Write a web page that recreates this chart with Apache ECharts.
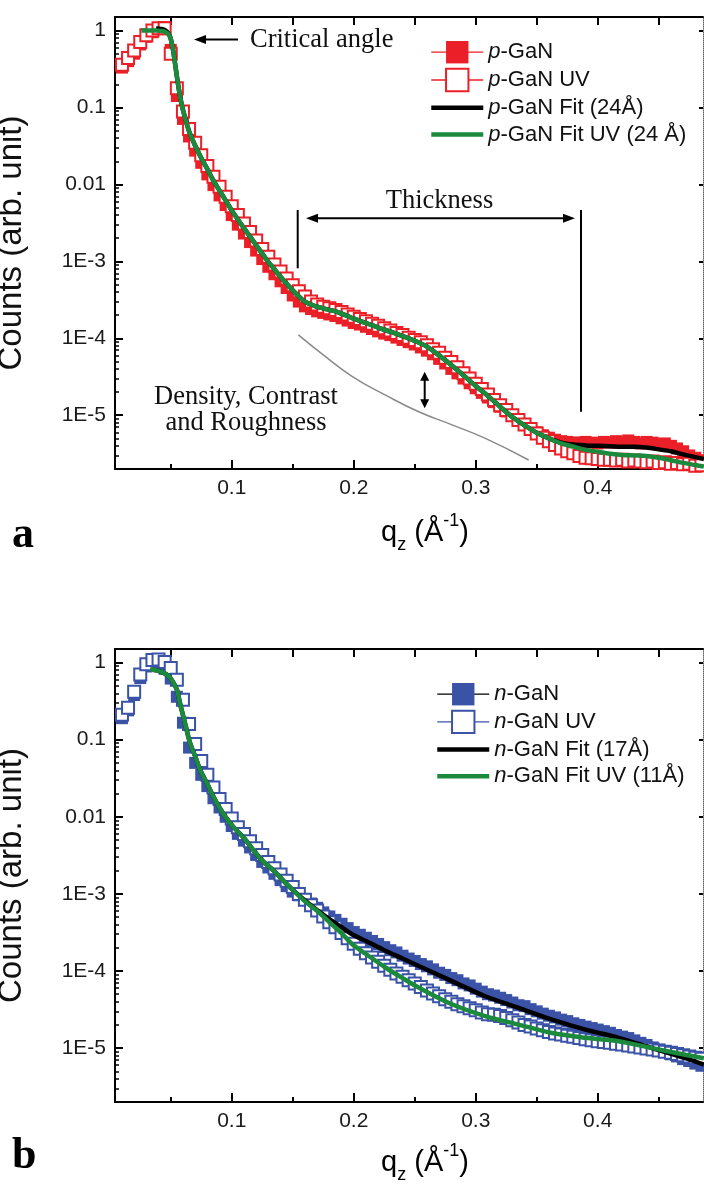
<!DOCTYPE html>
<html><head><meta charset="utf-8">
<script src="https://cdn.jsdelivr.net/npm/echarts@6/dist/echarts.min.js"></script>
<style>html,body{margin:0;padding:0;background:#fff}#c{width:704px;height:1187px}</style>
</head><body><div id="c"></div>
<script>
// ---------------- DATA ----------------
const qData = [0.010,0.015,0.020,0.025,0.030,0.035,0.040,0.045,0.050,0.055,
0.060,0.065,0.070,0.075,0.080,0.085,0.090,0.095,0.100,0.105,
0.110,0.115,0.120,0.125,0.130,0.135,0.140,0.145,0.150,0.155,
0.160,0.165,0.170,0.175,0.180,0.185,0.190,0.195,0.200,0.205,
0.210,0.215,0.220,0.225,0.230,0.235,0.240,0.245,0.250,0.255,
0.260,0.265,0.270,0.275,0.280,0.285,0.290,0.295,0.300,0.305,
0.310,0.315,0.320,0.325,0.330,0.335,0.340,0.345,0.350,0.355,
0.360,0.365,0.370,0.375,0.380,0.385,0.390,0.395,0.400,0.405,
0.410,0.415,0.420,0.425,0.430,0.435,0.440,0.445,0.450,0.455,
0.460,0.465,0.470,0.475,0.480,0.485];

const pGaN = [0.33,0.40,0.50,0.66,0.83,0.95,1.05,1.10,0.56,0.141,
0.071,0.042,0.0275,0.0191,0.0135,0.0098,0.0072,0.0054,0.0040,0.0030,
0.0023,0.00178,0.00138,0.00107,8.5e-4,6.8e-4,5.5e-4,4.5e-4,3.6e-4,3.0e-4,
2.6e-4,2.4e-4,2.24e-4,2.14e-4,2.04e-4,1.95e-4,1.82e-4,1.70e-4,1.58e-4,1.51e-4,
1.41e-4,1.32e-4,1.23e-4,1.15e-4,1.10e-4,1.02e-4,9.5e-5,8.9e-5,8.3e-5,7.6e-5,
6.9e-5,6.2e-5,5.4e-5,4.7e-5,4.0e-5,3.5e-5,3.0e-5,2.6e-5,2.24e-5,1.95e-5,
1.70e-5,1.48e-5,1.29e-5,1.12e-5,9.8e-6,8.5e-6,7.6e-6,6.8e-6,6.0e-6,5.5e-6,
5.1e-6,4.8e-6,4.6e-6,4.5e-6,4.4e-6,4.4e-6,4.5e-6,4.4e-6,4.3e-6,4.5e-6,
4.4e-6,4.6e-6,4.4e-6,4.7e-6,4.5e-6,4.3e-6,4.5e-6,4.4e-6,4.2e-6,4.3e-6,
4.0e-6,3.7e-6,3.4e-6,3.0e-6,2.8e-6,2.6e-6];

const pGaNUV = [0.36,0.44,0.55,0.71,0.87,1.0,1.07,1.07,0.50,0.178,
0.089,0.0525,0.0347,0.024,0.0174,0.0126,0.0093,0.0069,0.0052,0.0040,
0.0031,0.0024,0.00186,0.00145,0.00115,9.1e-4,7.4e-4,6.0e-4,4.9e-4,4.1e-4,
3.5e-4,3.0e-4,2.75e-4,2.57e-4,2.45e-4,2.34e-4,2.19e-4,2.04e-4,1.91e-4,1.78e-4,
1.66e-4,1.55e-4,1.45e-4,1.35e-4,1.26e-4,1.17e-4,1.10e-4,1.02e-4,9.5e-5,8.9e-5,
8.1e-5,7.2e-5,6.5e-5,5.6e-5,4.9e-5,4.2e-5,3.5e-5,3.0e-5,2.57e-5,2.19e-5,
1.86e-5,1.58e-5,1.35e-5,1.17e-5,1.0e-5,8.7e-6,7.6e-6,6.6e-6,5.8e-6,5.1e-6,
4.6e-6,4.1e-6,3.7e-6,3.4e-6,3.2e-6,2.95e-6,2.8e-6,2.75e-6,2.7e-6,2.63e-6,
2.63e-6,2.57e-6,2.63e-6,2.5e-6,2.57e-6,2.5e-6,2.45e-6,2.5e-6,2.4e-6,2.45e-6,
2.34e-6,2.4e-6,2.3e-6,2.34e-6,2.2e-6,2.24e-6];

const pFitQ = [0.038,0.042,0.045,0.048,0.050,0.052,0.054,0.056,0.058,0.060,
0.065,0.070,0.075,0.080,0.085,0.090,0.095,0.100,0.105,0.110,
0.115,0.120,0.125,0.130,0.135,0.140,0.145,0.150,0.155,0.160,
0.165,0.170,0.175,0.180,0.185,0.190,0.195,0.200,0.210,0.220,
0.230,0.240,0.250,0.260,0.270,0.280,0.290,0.300,0.310,0.320,
0.330,0.340,0.350,0.360,0.370,0.380,0.390,0.400,0.410,0.420,
0.430,0.440,0.450,0.460,0.470,0.480,0.487];
const pFit = [1.06,1.05,1.02,0.92,0.78,0.55,0.33,0.20,0.13,0.093,
0.049,0.032,0.022,0.0158,0.0112,0.0083,0.0062,0.0046,0.0035,0.0027,
0.0021,0.00162,0.00126,9.8e-4,7.9e-4,6.3e-4,5.1e-4,4.2e-4,3.5e-4,3.0e-4,
2.75e-4,2.57e-4,2.45e-4,2.34e-4,2.24e-4,2.09e-4,1.95e-4,1.80e-4,1.58e-4,1.38e-4,
1.22e-4,1.07e-4,9.3e-5,7.8e-5,6.0e-5,4.5e-5,3.3e-5,2.4e-5,1.78e-5,1.29e-5,
9.5e-6,7.4e-6,5.9e-6,5.0e-6,4.4e-6,4.15e-6,4.05e-6,4.0e-6,3.95e-6,3.9e-6,
3.9e-6,3.8e-6,3.6e-6,3.4e-6,3.1e-6,2.85e-6,2.7e-6];

const pFitUVQ = [0.026,0.032,0.038,0.042,0.045,0.048,0.050,0.052,0.054,0.056,
0.058,0.060,0.065,0.070,0.075,0.080,0.085,0.090,0.095,0.100,
0.105,0.110,0.115,0.120,0.125,0.130,0.135,0.140,0.145,0.150,
0.155,0.160,0.165,0.170,0.175,0.180,0.185,0.190,0.195,0.200,
0.210,0.220,0.230,0.240,0.250,0.260,0.270,0.280,0.290,0.300,
0.310,0.320,0.330,0.340,0.350,0.360,0.370,0.380,0.390,0.400,
0.410,0.420,0.430,0.440,0.450,0.460,0.470,0.480,0.487];
const pFitUV = [1.0,1.0,1.0,0.99,0.97,0.90,0.78,0.55,0.33,0.20,
0.13,0.093,0.049,0.032,0.022,0.0158,0.0112,0.0083,0.0062,0.0046,
0.0035,0.0027,0.0021,0.00162,0.00126,9.8e-4,7.9e-4,6.3e-4,5.1e-4,4.2e-4,
3.5e-4,3.0e-4,2.75e-4,2.57e-4,2.45e-4,2.34e-4,2.24e-4,2.09e-4,1.95e-4,1.80e-4,
1.58e-4,1.38e-4,1.22e-4,1.07e-4,9.3e-5,7.8e-5,6.0e-5,4.5e-5,3.3e-5,2.4e-5,
1.78e-5,1.29e-5,9.5e-6,7.4e-6,5.9e-6,5.0e-6,4.3e-6,3.9e-6,3.55e-6,3.35e-6,
3.15e-6,3.05e-6,3.0e-6,2.95e-6,2.8e-6,2.6e-6,2.4e-6,2.25e-6,2.15e-6];

const refQ = [0.1546,0.175,0.1986,0.2257,0.2533,0.2806,0.3079,0.3434];
const refY = [1.11e-4,6.1e-5,3.2e-5,1.84e-5,1.11e-5,7.5e-6,5.0e-6,2.62e-6];

const nGaN = [0.19,0.24,0.38,0.63,0.89,1.0,0.95,0.83,0.62,0.36,
0.166,0.079,0.050,0.035,0.025,0.0174,0.0132,0.0100,0.0076,0.0060,
0.0049,0.0040,0.0032,0.0026,0.0022,0.00182,0.00151,0.00126,0.00107,9.6e-4,
8.5e-4,7.5e-4,6.6e-4,5.75e-4,5.1e-4,4.6e-4,4.1e-4,3.6e-4,3.2e-4,2.95e-4,
2.7e-4,2.45e-4,2.24e-4,2.04e-4,1.86e-4,1.74e-4,1.58e-4,1.45e-4,1.35e-4,1.23e-4,
1.15e-4,1.05e-4,9.5e-5,8.9e-5,8.1e-5,7.6e-5,6.9e-5,6.5e-5,5.9e-5,5.4e-5,
5.0e-5,4.8e-5,4.5e-5,4.2e-5,3.9e-5,3.6e-5,3.5e-5,3.2e-5,3.0e-5,2.8e-5,
2.63e-5,2.5e-5,2.34e-5,2.24e-5,2.1e-5,2.0e-5,1.9e-5,1.82e-5,1.74e-5,1.66e-5,
1.58e-5,1.48e-5,1.41e-5,1.35e-5,1.26e-5,1.17e-5,1.10e-5,1.02e-5,9.5e-6,8.9e-6,
8.3e-6,7.8e-6,7.2e-6,6.8e-6,6.3e-6,5.9e-6];

const nGaNUV = [0.21,0.26,0.42,0.70,0.95,1.08,1.10,1.02,0.85,0.60,
0.33,0.16,0.088,0.053,0.035,0.024,0.0170,0.0126,0.0095,0.0073,
0.0060,0.0048,0.0039,0.0032,0.0026,0.00215,0.00178,0.00148,0.00123,1.0e-3,
8.4e-4,7.1e-4,6.1e-4,5.1e-4,4.3e-4,3.7e-4,3.1e-4,2.65e-4,2.25e-4,1.95e-4,
1.70e-4,1.50e-4,1.32e-4,1.17e-4,1.04e-4,9.3e-5,8.4e-5,7.6e-5,6.9e-5,6.2e-5,
5.6e-5,5.1e-5,4.7e-5,4.3e-5,4.0e-5,3.7e-5,3.5e-5,3.3e-5,3.1e-5,2.9e-5,
2.75e-5,2.7e-5,2.6e-5,2.45e-5,2.3e-5,2.15e-5,2.0e-5,1.9e-5,1.8e-5,1.7e-5,
1.62e-5,1.55e-5,1.5e-5,1.45e-5,1.40e-5,1.35e-5,1.30e-5,1.26e-5,1.23e-5,1.20e-5,
1.17e-5,1.14e-5,1.11e-5,1.08e-5,1.05e-5,1.02e-5,9.9e-6,9.6e-6,9.3e-6,9.0e-6,
8.7e-6,8.4e-6,8.1e-6,7.8e-6,7.5e-6,7.3e-6];

const nFitQ = [0.036,0.040,0.0466,0.050,0.0549,0.0575,0.0603,0.063,0.0658,0.070,
0.074,0.080,0.085,0.090,0.095,0.1013,0.110,0.1177,0.125,0.1341,
0.142,0.1505,0.160,0.1697,0.180,0.190,0.1986,0.210,0.226,0.240,
0.2533,0.2805,0.3078,0.335,0.3626,0.390,0.4172,0.4445,0.4718,0.487];
const nFit = [0.80,0.78,0.70,0.62,0.45,0.30,0.20,0.135,0.091,0.061,
0.041,0.0266,0.0182,0.0131,0.0099,0.0074,0.0053,0.0037,0.0027,0.00202,
0.00150,0.00111,8.2e-4,6.2e-4,4.7e-4,3.7e-4,3.0e-4,2.45e-4,1.83e-4,1.45e-4,
1.16e-4,7.4e-5,4.7e-5,3.33e-5,2.34e-5,1.74e-5,1.36e-5,1.0e-5,7.4e-6,6.1e-6];

const nFitUVQ = [0.033,0.040,0.0466,0.050,0.0549,0.0575,0.0603,0.063,0.0658,0.070,
0.074,0.080,0.085,0.090,0.095,0.1013,0.110,0.1177,0.125,0.1341,
0.142,0.1505,0.160,0.1697,0.180,0.190,0.1986,0.210,0.226,0.240,
0.2533,0.2805,0.3078,0.335,0.3626,0.390,0.4172,0.4445,0.4718,0.487];
const nFitUV = [0.82,0.78,0.70,0.62,0.45,0.30,0.20,0.135,0.091,0.061,
0.041,0.0266,0.0182,0.0131,0.0099,0.0074,0.0053,0.0037,0.0027,0.00202,
0.00150,0.00111,8.0e-4,6.1e-4,4.3e-4,3.1e-4,2.24e-4,1.66e-4,1.11e-4,8.1e-5,
6.1e-5,3.7e-5,2.6e-5,2.02e-5,1.57e-5,1.36e-5,1.23e-5,1.0e-5,8.2e-6,7.4e-6];

const xTickValues = [0.1, 0.2, 0.3, 0.4];
const xTickLabels = ['0.1', '0.2', '0.3', '0.4'];
const xMinorValues = [0.05, 0.15, 0.25, 0.35, 0.45];
const xTopValues = [0.05, 0.1, 0.15, 0.2, 0.25, 0.3, 0.35, 0.4, 0.45];
const yTickValues = [1e-5, 1e-4, 1e-3, 0.01, 0.1, 1];
const yTickLabels = ['1E-5', '1E-4', '1E-3', '0.01', '0.1', '1'];

// ---------------- STYLE ----------------
const SANS = "'Liberation Sans', Arial, sans-serif";
const SERIF = "'Liberation Serif', 'Times New Roman', serif";
const RED = '#ea1f27', BLUE = '#3b53a6', GREEN = '#1b8a3c';
const X_MIN = 0.0043, X_MAX = 0.4863, Y_MIN = 2e-6, Y_MAX = 1.5;

const yMinorValues = [];
for (let e = -6; e <= 0; e++) for (let m = 2; m <= 9; m++) {
  const v = m * Math.pow(10, e);
  if (v > Y_MIN * 1.01 && v < Y_MAX) yMinorValues.push(v);
}

function yLabel(v) {
  const i = yTickValues.findIndex(t => Math.abs(Math.log10(t) - Math.log10(v)) < 0.01);
  return i >= 0 ? yTickLabels[i] : '';
}
function xLabel(v) {
  const i = xTickValues.findIndex(t => Math.abs(t - v) < 1e-6);
  return i >= 0 ? xTickLabels[i] : '';
}

function makeX(gi) {
  const base = {gridIndex: gi, type: 'value', min: X_MIN, max: X_MAX, splitLine: {show: false}};
  return [
    Object.assign({}, base, {position: 'bottom',
      axisLine: {show: true, onZero: false, lineStyle: {color: '#000', width: 2}},
      axisTick: {show: true, inside: true, length: 9, customValues: xTickValues, lineStyle: {color: '#000', width: 2}},
      axisLabel: {show: true, customValues: xTickValues, formatter: xLabel, fontSize: 21, fontFamily: SANS, color: '#1a1a1a', margin: 9}}),
    Object.assign({}, base, {position: 'bottom',
      axisLine: {show: false, onZero: false},
      axisTick: {show: true, inside: true, length: 5, customValues: xMinorValues, lineStyle: {color: '#000', width: 2}},
      axisLabel: {show: false}}),
    Object.assign({}, base, {position: 'top',
      axisLine: {show: true, onZero: false, lineStyle: {color: '#000', width: 2}},
      axisTick: {show: true, inside: true, length: 8, customValues: xTopValues, lineStyle: {color: '#000', width: 2}},
      axisLabel: {show: false}})
  ];
}
function makeY(gi) {
  const base = {gridIndex: gi, type: 'log', logBase: 10, min: Y_MIN, max: Y_MAX, splitLine: {show: false}};
  return [
    Object.assign({}, base, {position: 'left',
      name: 'Counts (arb. unit)', nameLocation: 'middle', nameGap: 87, nameRotate: 90,
      nameTextStyle: {fontSize: 33, fontFamily: SANS, color: '#111'},
      axisLine: {show: true, onZero: false, lineStyle: {color: '#000', width: 2}},
      axisTick: {show: true, inside: true, length: 8, customValues: yTickValues, lineStyle: {color: '#000', width: 2}},
      axisLabel: {show: true, customValues: yTickValues, formatter: yLabel, fontSize: 21, fontFamily: SANS, color: '#1a1a1a', margin: 9}}),
    Object.assign({}, base, {position: 'left',
      axisLine: {show: false, onZero: false},
      axisTick: {show: true, inside: true, length: 4, customValues: yMinorValues, lineStyle: {color: '#000', width: 1.5}},
      axisLabel: {show: false}}),
    Object.assign({}, base, {position: 'right',
      axisLine: {show: true, onZero: false, lineStyle: {color: '#666', width: 1, type: 'dotted'}},
      axisTick: {show: true, inside: true, length: 4, customValues: yTickValues, lineStyle: {color: '#000', width: 2}},
      axisLabel: {show: false}})
  ];
}

const zip = (xs, ys) => xs.map((x, i) => [x, ys[i]]);

function dataSeries(name, xi, yi, q, v, color, filled) {
  return {name, type: 'line', xAxisIndex: xi, yAxisIndex: yi, data: zip(q, v),
    symbol: filled ? 'rect' : 'emptyRect', symbolSize: 12, showSymbol: true,
    lineStyle: {width: 1, opacity: 0, color},
    itemStyle: filled ? {color} : {color, borderColor: color, borderWidth: 1.4},
    emphasis: {disabled: true}, z: 2};
}
function fitSeries(name, xi, yi, q, v, color, z) {
  return {name, type: 'line', xAxisIndex: xi, yAxisIndex: yi, data: zip(q, v),
    symbol: 'none', smooth: 0.3, lineStyle: {width: 4.5, color}, itemStyle: {color},
    emphasis: {disabled: true}, z};
}

const legendText = {fontSize: 22, fontFamily: SANS, color: '#111',
  rich: {i: {fontStyle: 'italic', fontSize: 22, fontFamily: SANS, color: '#111'}}};
const legendFmt = n => '{i|' + n.charAt(0) + '}' + n.slice(1);
const fitLegend = (name, color) => ({name, itemStyle: {opacity: 0}, lineStyle: {width: 4.5, color, opacity: 1}});
const dataLegend = (name, color) => ({name, lineStyle: {width: 1.3, color, opacity: 1}});

const qTitle = {
  text: '{b|q}{s|z}{b| (Å}{p|-1}{b|)}',
  rich: {
    b: {fontSize: 29, fontFamily: SANS, color: '#111', lineHeight: 42},
    s: {fontSize: 18, fontFamily: SANS, color: '#111', lineHeight: 18, verticalAlign: 'bottom'},
    p: {fontSize: 18, fontFamily: SANS, color: '#111', lineHeight: 28, verticalAlign: 'top'}
  },
  align: 'center', verticalAlign: 'middle'
};

function arrowHead(tx, ty, dx, dy, len, half) {
  const bx = tx - dx * len, by = ty - dy * len;
  const px = -dy, py = dx;
  return {type: 'polygon', shape: {points: [[tx, ty], [bx + px * half, by + py * half], [bx - px * half, by - py * half]]},
    style: {fill: '#000'}, z: 100};
}
function seg(x1, y1, x2, y2, w) {
  return {type: 'line', shape: {x1, y1, x2, y2}, style: {stroke: '#000', lineWidth: w || 2}, z: 100};
}

const option = {
  animation: false,
  backgroundColor: '#fff',
  grid: [
    {left: 115, top: 17, width: 588, height: 452, containLabel: false, outerBoundsMode: 'none'},
    {left: 115, top: 649, width: 588, height: 453, containLabel: false, outerBoundsMode: 'none'}
  ],
  xAxis: makeX(0).concat(makeX(1)),
  yAxis: makeY(0).concat(makeY(1)),
  legend: [
    {orient: 'vertical', left: 429, top: 41, padding: 0, itemWidth: 52, itemHeight: 28, itemGap: 4.4,
     selectedMode: false, formatter: legendFmt, textStyle: legendText,
     data: [dataLegend('p-GaN', RED), dataLegend('p-GaN UV', RED),
            fitLegend('p-GaN Fit (24Å)', '#000'), fitLegend('p-GaN Fit UV (24 Å)', GREEN)]},
    {orient: 'vertical', left: 435, top: 683, padding: 0, itemWidth: 52, itemHeight: 28, itemGap: 4.3,
     selectedMode: false, formatter: legendFmt, textStyle: legendText,
     data: [dataLegend('n-GaN', '#000'), dataLegend('n-GaN UV', BLUE),
            fitLegend('n-GaN Fit (17Å)', '#000'), fitLegend('n-GaN Fit UV (11Å)', GREEN)]}
  ],
  series: [
    dataSeries('p-GaN', 0, 0, qData, pGaN, RED, true),
    dataSeries('p-GaN UV', 0, 0, qData, pGaNUV, RED, false),
    {name: 'reference', type: 'line', xAxisIndex: 0, yAxisIndex: 0, data: zip(refQ, refY), symbol: 'none',
     smooth: true, lineStyle: {width: 1.5, color: '#8a8a8a'}, z: 1, emphasis: {disabled: true}},
    fitSeries('p-GaN Fit (24Å)', 0, 0, pFitQ, pFit, '#000', 3),
    fitSeries('p-GaN Fit UV (24 Å)', 0, 0, pFitUVQ, pFitUV, GREEN, 4),
    dataSeries('n-GaN', 3, 3, qData, nGaN, BLUE, true),
    dataSeries('n-GaN UV', 3, 3, qData, nGaNUV, BLUE, false),
    fitSeries('n-GaN Fit (17Å)', 3, 3, nFitQ, nFit, '#000', 3),
    fitSeries('n-GaN Fit UV (11Å)', 3, 3, nFitUVQ, nFitUV, GREEN, 4)
  ],
  graphic: [
    {type: 'text', x: 425, y: 533, style: qTitle, z: 100},
    {type: 'text', x: 425, y: 1163, style: qTitle, z: 100},
    {type: 'text', x: 12, y: 536, style: {text: 'a', fontSize: 44, fontWeight: 'bold', fontFamily: SERIF, fill: '#000', verticalAlign: 'middle'}, z: 100},
    {type: 'text', x: 12, y: 1157, style: {text: 'b', fontSize: 44, fontWeight: 'bold', fontFamily: SERIF, fill: '#000', verticalAlign: 'middle'}, z: 100},
    {type: 'text', x: 250, y: 40, style: {text: 'Critical angle', fontSize: 26.5, fontFamily: SERIF, fill: '#111', verticalAlign: 'middle'}, z: 100},
    seg(202, 39.5, 238, 39.5, 2),
    arrowHead(194, 39.5, -1, 0, 12, 4.5),
    {type: 'text', x: 439.5, y: 201, style: {text: 'Thickness', fontSize: 26.5, fontFamily: SERIF, fill: '#111', align: 'center', verticalAlign: 'middle'}, z: 100},
    seg(312, 218.3, 569, 218.3, 2),
    arrowHead(306, 218.3, -1, 0, 12, 4.5),
    arrowHead(575, 218.3, 1, 0, 12, 4.5),
    seg(297.7, 210, 297.7, 268.3, 2),
    seg(581, 210, 581, 411.7, 2),
    {type: 'text', x: 246, y: 410, style: {text: 'Density, Contrast\nand Roughness', fontSize: 26.5, lineHeight: 26.7, fontFamily: SERIF, fill: '#111', align: 'center', verticalAlign: 'middle'}, z: 100},
    seg(424.7, 378, 424.7, 402, 2),
    arrowHead(424.7, 371.7, 0, -1, 9, 4.5),
    arrowHead(424.7, 408.3, 0, 1, 9, 4.5)
  ]
};

const chart = echarts.init(document.getElementById('c'), null, {renderer: 'canvas'});
chart.setOption(option);
</script>
</body></html>
